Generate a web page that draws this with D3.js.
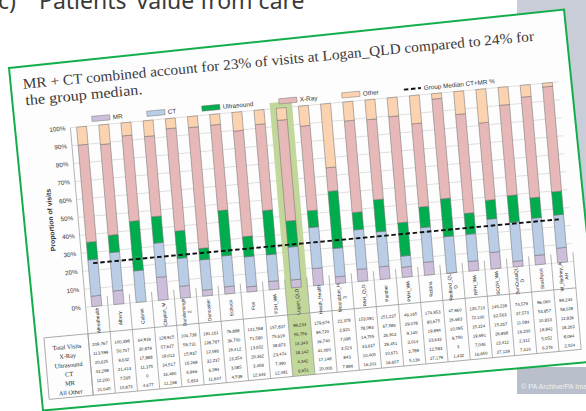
<!DOCTYPE html>
<html><head><meta charset="utf-8">
<script src="https://cdn.jsdelivr.net/npm/d3@7"></script>
<style>body{margin:0;background:#fff;overflow:hidden}svg{display:block}</style>
</head><body>
<svg id="c" width="586" height="411"></svg>
<script>
// ---------------- data ----------------
const categories = ["Alfredhealth","Albury","Cabrini","Clayton_M","Dandenongh 2","Doncaster","Echuca","Fox","FSH_WA","Logan_QLD","Heath_Health","Moorabbin_H 3","PAH_QLD","Panther","PMH_WA","Robina","Redland_QLD","RPH_WA","SCGH_WA","SunCoastQLD","Southport","W_Sydney_AAH"];
const categoryLines = [["Alfredhealth"],["Albury"],["Cabrini"],["Clayton_M"],["Dandenongh","2"],["Doncaster"],["Echuca"],["Fox"],["FSH_WA"],["Logan_QLD"],["Heath_Health"],["Moorabbin_H","3"],["PAH_QLD"],["Panther"],["PMH_WA"],["Robina"],["Redland_QL","D"],["RPH_WA"],["SCGH_WA"],["SunCoastQL","D"],["Southport"],["W_Sydney_A","AH"]];
const totalVisits = [209767,100398,64919,128915,104738,191161,76888,121598,157837,99234,179674,22378,153091,151227,49165,174953,47960,130713,145239,74579,96060,99244];
const xray       = [113599,50707,30879,57627,59731,128787,36700,71580,75619,55756,84720,2921,78093,67586,29078,80675,26683,72100,62563,37573,53857,58028];
const ultrasound = [20625,9632,17888,19013,15937,12096,19412,13652,38873,14343,16740,7095,14755,26912,9140,19894,10095,15224,15267,11084,10833,12836];
const ct         = [42298,21413,11375,24517,16269,32237,13254,20362,23474,18142,41060,3523,33637,29451,3014,33633,9750,19691,26868,16200,19842,18262];
const mr         = [12200,7565,0,16490,6966,6394,3085,3458,7390,4342,17148,843,10405,10671,2789,12583,3,7046,13412,2312,5052,8094];
const other      = [21045,10873,4677,11268,5833,11647,4539,12646,12481,6651,20006,7896,16201,16607,5136,27179,1432,16650,27129,7410,6276,2024];
const seriesKeys   = ["MR","CT","Ultrasound","X-Ray","Other"];
const seriesColors = ["#cdbfdb","#b9cde6","#00ad4e","#e6b8b8","#fbd3b0"];
const yTicks = [0,0.1,0.2,0.3,0.4,0.5,0.6,0.7,0.8,0.9,1];
const groupMedianCTMR = 0.24;
const highlighted = "Logan_QLD";
const tableRowLabels = ["Total Visits","X-Ray","Ultrasound","CT","MR","All Other"];
const titleLines = ["MR + CT combined account for 23% of visits at Logan_QLD compared to 24% for","the group median."];
const heading = ["c)","Patients\u2019 value from care"];
const credit = "\u00a9 PA Archive/PA Images";

// ---------------- layout ----------------
const L = {plotL:56, plotR:544, y100:64, y0:243.5, tableTop:270, tableBot:331.5, rowL:12,
           rowY0:281, rowStep:9.1, legendY:57.3, legendX:[78,133,188,265,328,390]};

const svg = d3.select("#c");
// background photo elements
svg.append("rect").attr("x",517).attr("y",0).attr("width",69).attr("height",236).attr("fill","#c8cdd7");
svg.append("rect").attr("x",517).attr("y",367).attr("width",69).attr("height",27).attr("fill","#b9c0cc");
svg.append("text").attr("x",521).attr("y",389).attr("font-family","Liberation Sans, Arial, sans-serif")
  .attr("font-size",7.2).attr("fill","#eef0f4").text(credit);
// heading
svg.append("text").attr("x",-2).attr("y",9).attr("font-family","Noto Sans, sans-serif").attr("font-size",23).attr("fill","#3a3a3a").text(heading[0]);
svg.append("text").attr("x",39).attr("y",9).attr("font-family","Noto Sans, sans-serif").attr("font-size",23).attr("fill","#3a3a3a").text(heading[1]);
// paper panel
svg.append("polygon").attr("points","9,68 564,9.5 600,361 43,410.5").attr("fill","#fdfdfd")
  .attr("stroke","#13ad4c").attr("stroke-width",2);

const g = svg.append("g").attr("transform","matrix(1,-0.094,0.085,1,9,69)");

// title
g.append("text").attr("x",12.5).attr("y",21).attr("font-family","Liberation Serif, serif").attr("font-size",14.5)
  .attr("fill","#3a3a3a").attr("textLength",511).attr("lengthAdjust","spacingAndGlyphs").text(titleLines[0]);
g.append("text").attr("x",13.5).attr("y",37.5).attr("font-family","Liberation Serif, serif").attr("font-size",14.5)
  .attr("fill","#3a3a3a").attr("textLength",117).attr("lengthAdjust","spacingAndGlyphs").text(titleLines[1]);

// scales
const x = d3.scaleBand().domain(categories).range([L.plotL,L.plotR]).paddingInner(0.55).paddingOuter(0.275);
const y = d3.scaleLinear().domain([0,1]).range([L.y0,L.y100]);
const step = x.step();
const bandStart = c => x(c) - step*x.paddingInner()/2;

// gridlines
g.append("g").selectAll("line").data(yTicks).join("line")
  .attr("x1",L.plotL).attr("x2",L.plotR).attr("y1",d=>y(d)).attr("y2",d=>y(d))
  .attr("stroke","#d4d4d4").attr("stroke-width",0.7);

// highlight band
g.append("rect").attr("x",bandStart(highlighted)).attr("width",step)
  .attr("y",L.y100-6).attr("height",L.tableBot-(L.y100-6)).attr("fill","#c2d79a");

// axis line, dividers, table frame
const lineCol = "#9a9a9a";
g.append("line").attr("x1",L.plotL).attr("x2",L.plotL).attr("y1",y(1)).attr("y2",L.tableBot).attr("stroke",lineCol).attr("stroke-width",0.7);
g.append("g").selectAll("line").data(categories.slice(1).concat(["__end"])).join("line")
  .attr("x1",(d,i)=>L.plotL+(i+1)*step).attr("x2",(d,i)=>L.plotL+(i+1)*step)
  .attr("y1",y(0)-9).attr("y2",L.tableBot).attr("stroke",lineCol).attr("stroke-width",0.7);
g.append("rect").attr("x",L.rowL).attr("y",L.tableTop).attr("width",L.plotL-L.rowL).attr("height",L.tableBot-L.tableTop)
  .attr("fill","none").attr("stroke",lineCol).attr("stroke-width",0.8);
g.append("line").attr("x1",L.plotL).attr("x2",L.plotR).attr("y1",L.tableTop).attr("y2",L.tableTop).attr("stroke",lineCol).attr("stroke-width",0.8);
g.append("line").attr("x1",L.plotL).attr("x2",L.plotR).attr("y1",L.tableBot).attr("y2",L.tableBot).attr("stroke",lineCol).attr("stroke-width",0.8);

// y tick labels
g.append("g").selectAll("text").data(yTicks).join("text")
  .attr("x",L.plotL-5).attr("y",d=>y(d)).attr("dy","0.35em").attr("text-anchor","end")
  .attr("font-family","Liberation Sans, Arial, sans-serif").attr("font-size",6.3).attr("fill","#333")
  .text(d=>d3.format(".0%")(d));
g.append("text").attr("transform",`translate(31,${(y(0)+y(1))/2}) rotate(-90)`).attr("text-anchor","middle")
  .attr("font-family","Liberation Sans, Arial, sans-serif").attr("font-size",6.8).attr("font-weight","bold").attr("fill","#333")
  .text("Proportion of visits");

// stacked bars
const rows = categories.map((c,i)=>{
  const tot = mr[i]+ct[i]+ultrasound[i]+xray[i]+other[i];
  return {cat:c, "MR":mr[i]/tot, "CT":ct[i]/tot, "Ultrasound":ultrasound[i]/tot, "X-Ray":xray[i]/tot, "Other":other[i]/tot};
});
const stacked = d3.stack().keys(seriesKeys)(rows);
g.append("g").selectAll("g").data(stacked).join("g").attr("fill",(d,i)=>seriesColors[i])
  .selectAll("rect").data(d=>d).join("rect")
  .attr("x",d=>x(d.data.cat)).attr("width",x.bandwidth())
  .attr("y",d=>y(d[1])).attr("height",d=>Math.max(0,y(d[0])-y(d[1])))
  .attr("stroke","#6e6e6e").attr("stroke-width",0.5);

// median line
g.append("line").attr("x1",x(categories[0])+x.bandwidth()/2).attr("x2",x(categories[categories.length-1])+x.bandwidth()/2)
  .attr("y1",y(groupMedianCTMR)).attr("y2",y(groupMedianCTMR))
  .attr("stroke","#111").attr("stroke-width",1.9).attr("stroke-dasharray","4.5,2.6");

// legend
const lg = g.append("g").attr("font-family","Liberation Sans, Arial, sans-serif").attr("font-size",6.3).attr("fill","#333");
seriesKeys.forEach((k,i)=>{
  lg.append("rect").attr("x",L.legendX[i]).attr("y",L.legendY-2.6).attr("width",18).attr("height",5.2)
    .attr("fill",seriesColors[i]).attr("stroke","#7a7a7a").attr("stroke-width",0.5);
  lg.append("text").attr("x",L.legendX[i]+21).attr("y",L.legendY).attr("dy","0.35em").text(k);
});
lg.append("line").attr("x1",L.legendX[5]).attr("x2",L.legendX[5]+17).attr("y1",L.legendY).attr("y2",L.legendY)
  .attr("stroke","#111").attr("stroke-width",1.9).attr("stroke-dasharray","4.5,2.6");
lg.append("text").attr("x",L.legendX[5]+20).attr("y",L.legendY).attr("dy","0.35em").text("Group Median CT+MR %");

// category labels
const labelMid = (y(0)+L.tableTop)/2 + 1;
const cl = g.append("g").attr("font-family","Liberation Sans, Arial, sans-serif").attr("font-size",4.8).attr("fill","#222");
categories.forEach((c,i)=>{
  const lines = categoryLines[i];
  const t = cl.append("text").attr("transform",`translate(${x(c)+x.bandwidth()/2},${labelMid}) rotate(-90)`)
    .attr("text-anchor","middle");
  lines.forEach((s,j)=>{
    t.append("tspan").attr("x",0).attr("y",(j-(lines.length-1)/2)*5.6).attr("dy","0.35em").text(s);
  });
});

// table
const fmt = d3.format(",");
const tableData = [totalVisits,xray,ultrasound,ct,mr,other];
const tg = g.append("g").attr("font-family","Liberation Sans, Arial, sans-serif").attr("fill","#1e1e1e");
tableRowLabels.forEach((lab,r)=>{
  tg.append("text").attr("x",(L.rowL+L.plotL)/2).attr("y",L.rowY0+r*L.rowStep).attr("dy","0.35em")
    .attr("text-anchor","middle").attr("font-family","Liberation Serif, serif").attr("font-size",6.3).text(lab);
  tg.append("g").selectAll("text").data(tableData[r]).join("text")
    .attr("x",(d,i)=>x(categories[i])+x.bandwidth()/2).attr("y",L.rowY0+r*L.rowStep).attr("dy","0.35em")
    .attr("text-anchor","middle").attr("font-size",4.3).text(d=>fmt(d));
});
</script>
</body></html>
